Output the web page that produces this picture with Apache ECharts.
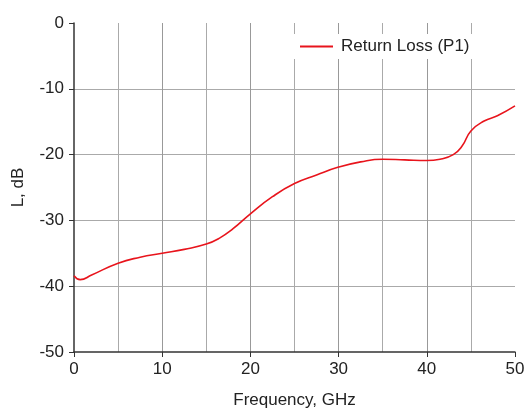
<!DOCTYPE html>
<html>
<head>
<meta charset="utf-8">
<script src="https://cdn.jsdelivr.net/npm/echarts@6/dist/echarts.min.js"></script>
<style>
  html, body { margin: 0; padding: 0; background: #fff; }
  #chart { width: 527px; height: 410px; }
</style>
</head>
<body>
<div id="chart"></div>
<script>
// frequency, GHz
var freq = [0, 0.7, 2, 5, 7.5, 10, 12.5, 15, 16.5, 18, 20, 22.5, 25, 27.5, 30, 32.5, 35, 37.5, 40, 41.5, 43, 44, 45, 46.5, 48, 50];
// return loss, dB
var loss = [-38.4, -39.0, -38.3, -36.5, -35.6, -35.0, -34.4, -33.6, -32.7, -31.3, -29.0, -26.4, -24.4, -23.1, -21.9, -21.1, -20.7, -20.8, -20.9, -20.7, -20.0, -18.7, -16.4, -14.9, -14.1, -12.6];
var seriesName = 'Return Loss (P1)';

var points = freq.map(function (f, i) { return [f, loss[i]]; });

var axisFont = { fontFamily: 'Liberation Sans, Arial, sans-serif', fontSize: 17, color: '#222' };
var hide = 'rgba(0,0,0,0)';

var chart = echarts.init(document.getElementById('chart'));
chart.setOption({
  animation: false,
  backgroundColor: '#fff',
  grid: { left: 74, right: 12, top: 23, bottom: 58, outerBoundsMode: 'none', containLabel: false },
  legend: {
    data: [seriesName],
    top: 34, left: 292,
    backgroundColor: '#fff',
    padding: [4, 8],
    itemWidth: 33, itemHeight: 2,
    itemGap: 6,
    icon: 'rect',
    itemStyle: { color: '#e8141c' },
    textStyle: { fontFamily: 'Liberation Sans, Arial, sans-serif', fontSize: 17, color: '#222', padding: [0, 0, 0, 3] }
  },
  xAxis: {
    type: 'value', min: 0, max: 50, interval: 10,
    name: 'Frequency, GHz', nameLocation: 'middle', nameGap: 40,
    nameTextStyle: axisFont,
    axisLine: { onZero: false, lineStyle: { color: '#333', width: 1.5 } },
    axisTick: { length: 5, lineStyle: { color: '#333' } },
    axisLabel: Object.assign({ margin: 9 }, axisFont),
    splitLine: { show: true, lineStyle: { color: [hide, '#999', '#999', '#999', '#999', hide], width: 1 } },
    minorTick: { show: false, splitNumber: 2 },
    minorSplitLine: { show: true, lineStyle: { color: '#aaa', width: 1 } }
  },
  yAxis: {
    type: 'value', min: -50, max: 0, interval: 10,
    name: 'L, dB', nameLocation: 'middle', nameGap: 47,
    nameTextStyle: axisFont,
    axisLine: { onZero: false, lineStyle: { color: '#333', width: 1.5 } },
    axisTick: { length: 5, lineStyle: { color: '#333' } },
    axisLabel: Object.assign({ margin: 10 }, axisFont),
    splitLine: { show: true, lineStyle: { color: [hide, '#aaa', '#aaa', '#aaa', '#aaa', hide], width: 1 } }
  },
  series: [{
    name: seriesName,
    type: 'line',
    data: points,
    smooth: 0.5,
    showSymbol: false,
    lineStyle: { color: '#e8141c', width: 1.6 },
    itemStyle: { color: '#e8141c' }
  }]
});
</script>
</body>
</html>
